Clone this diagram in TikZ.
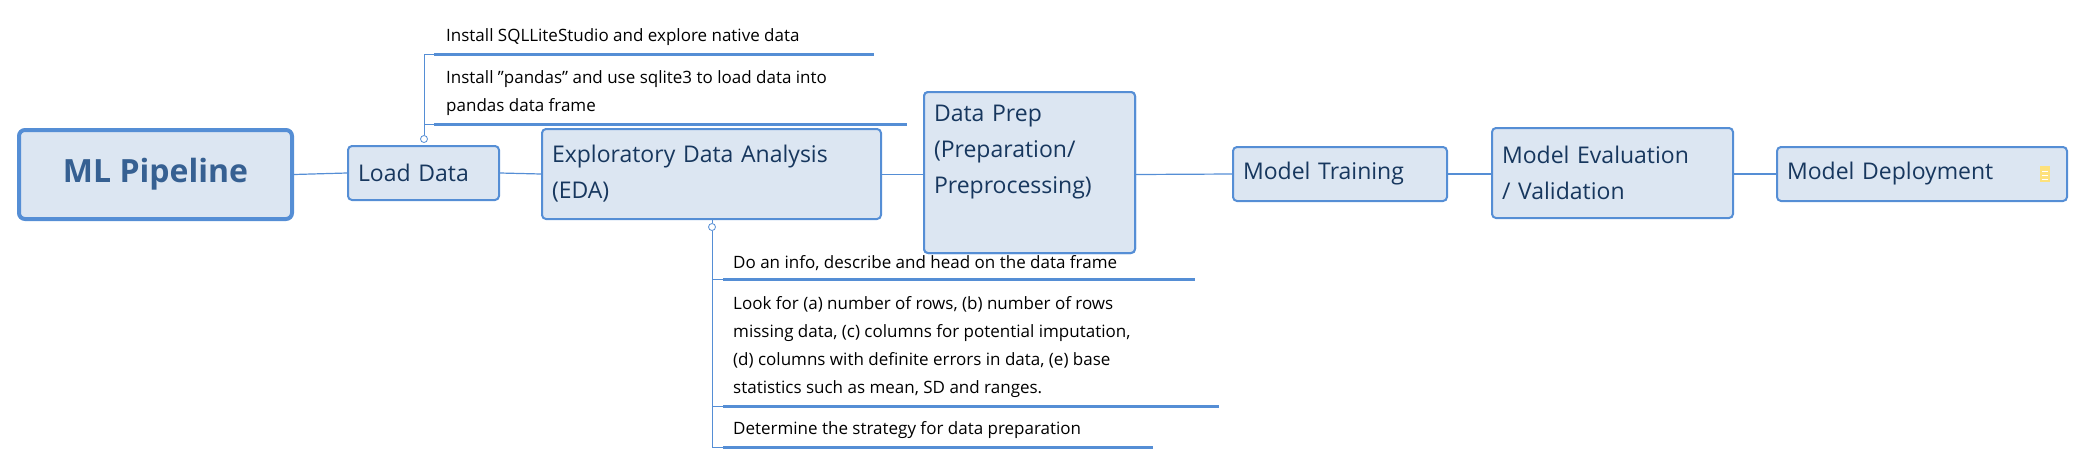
\documentclass[tikz,border=0pt]{standalone}
\usepackage{fontspec}
\setmainfont{Open Sans}
\begin{document}
\begin{tikzpicture}[x=1pt,y=-1pt,
  box/.style={draw=bordc,fill=boxc,line width=2pt,rounded corners=4pt,text=txtc,align=left,inner sep=0pt,font=\fontsize{23}{36}\selectfont},
  link/.style={draw=bordc,line width=1.2pt},
  sub/.style={anchor=south west,inner sep=0pt,align=left,text=black,font=\fontsize{17}{28}\selectfont},
  uline/.style={draw=bordc,line width=3pt},
  knob/.style={circle,draw=bordc,fill=white,line width=0.8pt,inner sep=0pt,minimum size=7pt}]
\definecolor{bordc}{HTML}{558ED5}
\definecolor{boxc}{HTML}{DCE6F2}
\definecolor{txtc}{HTML}{17375E}
\definecolor{mlc}{HTML}{366092}
\useasboundingbox (0,0) rectangle (2074,464);
% main nodes
\node[box,line width=4pt,rounded corners=6pt,minimum width=273pt,minimum height=89pt,align=center,text=mlc,font=\fontsize{32}{38}\selectfont\bfseries] (ml) at (155.5,174.5) {ML Pipeline};
\node[box,minimum width=151pt,minimum height=54pt,text width=131pt] (ld) at (423.5,173) {Load Data};
\node[box,minimum width=339pt,minimum height=90pt,text width=319pt] (eda) at (711.5,174) {Exploratory Data Analysis\\(EDA)};
\node[box,minimum width=211pt,minimum height=161pt,text width=191pt] (dp) at (1029.5,172.5) {Data Prep\\(Preparation/\\Preprocessing)\\\strut};
\node[box,minimum width=214pt,minimum height=54pt,text width=194pt] (mt) at (1340,174) {Model Training};
\node[box,minimum width=241pt,minimum height=90pt,text width=221pt] (me) at (1612.5,173) {Model Evaluation\\/ Validation};
\node[box,minimum width=290pt,minimum height=54pt,text width=270pt] (md) at (1922,174) {Model Deployment};
% note icon
\fill[yellow!60!orange!50] (2040,166) rectangle (2050,182);
\draw[white,line width=0.8pt] (2042,171)--(2048,171) (2042,175)--(2048,175) (2042,179)--(2048,179);
% links
\draw[link] (ml.east) -- (ld.west);
\draw[link] (ld.east) -- (eda.west);
\draw[link] (eda.east|-ml.east) -- (dp.west|-ml.east);
\draw[link] (dp.east|-ml.east) -- (mt.west);
\draw[link] (mt.east) -- (me.west|-mt.east);
\draw[link] (me.east|-mt.east) -- (md.west);
% Load Data children
\node[knob] (k1) at (424,139) {};
\coordinate (a1) at (434,54);
\coordinate (a2) at (434,124);
\draw[bordc,line width=1pt] (k1.north) -- (424,54) -- (a1);
\draw[bordc,line width=1pt] (424,124) -- (a2);
\node[sub] (c1) at (446,46) {Install SQLLiteStudio and explore native data};
\node[sub] (c2) at (446,116) {Install "pandas" and use sqlite3 to load data into\\pandas data frame};
\draw[uline] (a1) -- (874,54);
\draw[uline] (a2) -- (907,124);
% EDA children
\node[knob] (k2) at (712,227) {};
\draw[bordc,line width=1pt] (eda.south-|k2) -- (k2.north);
\coordinate (b1) at (723,279);
\coordinate (b2) at (723,406);
\coordinate (b3) at (723,447);
\draw[bordc,line width=1pt] (k2.south) -- (712,447) -- (b3);
\draw[bordc,line width=1pt] (712,279) -- (b1) (712,406) -- (b2);
\node[sub] (e1) at (733,271) {Do an info, describe and head on the data frame};
\node[sub] (e2) at (733,398) {Look for (a) number of rows, (b) number of rows\\missing data, (c) columns for potential imputation,\\(d) columns with definite errors in data, (e) base\\statistics such as mean, SD and ranges.};
\node[sub] (e3) at (733,439) {Determine the strategy for data preparation};
\draw[uline] (b1) -- (1195,279);
\draw[uline] (b2) -- (1219,406);
\draw[uline] (b3) -- (1153,447);
% redraw data prep on top
\node[box,minimum width=211pt,minimum height=161pt,text width=191pt] at (1029.5,172.5) {Data Prep\\(Preparation/\\Preprocessing)\\\strut};
\end{tikzpicture}
\end{document}
